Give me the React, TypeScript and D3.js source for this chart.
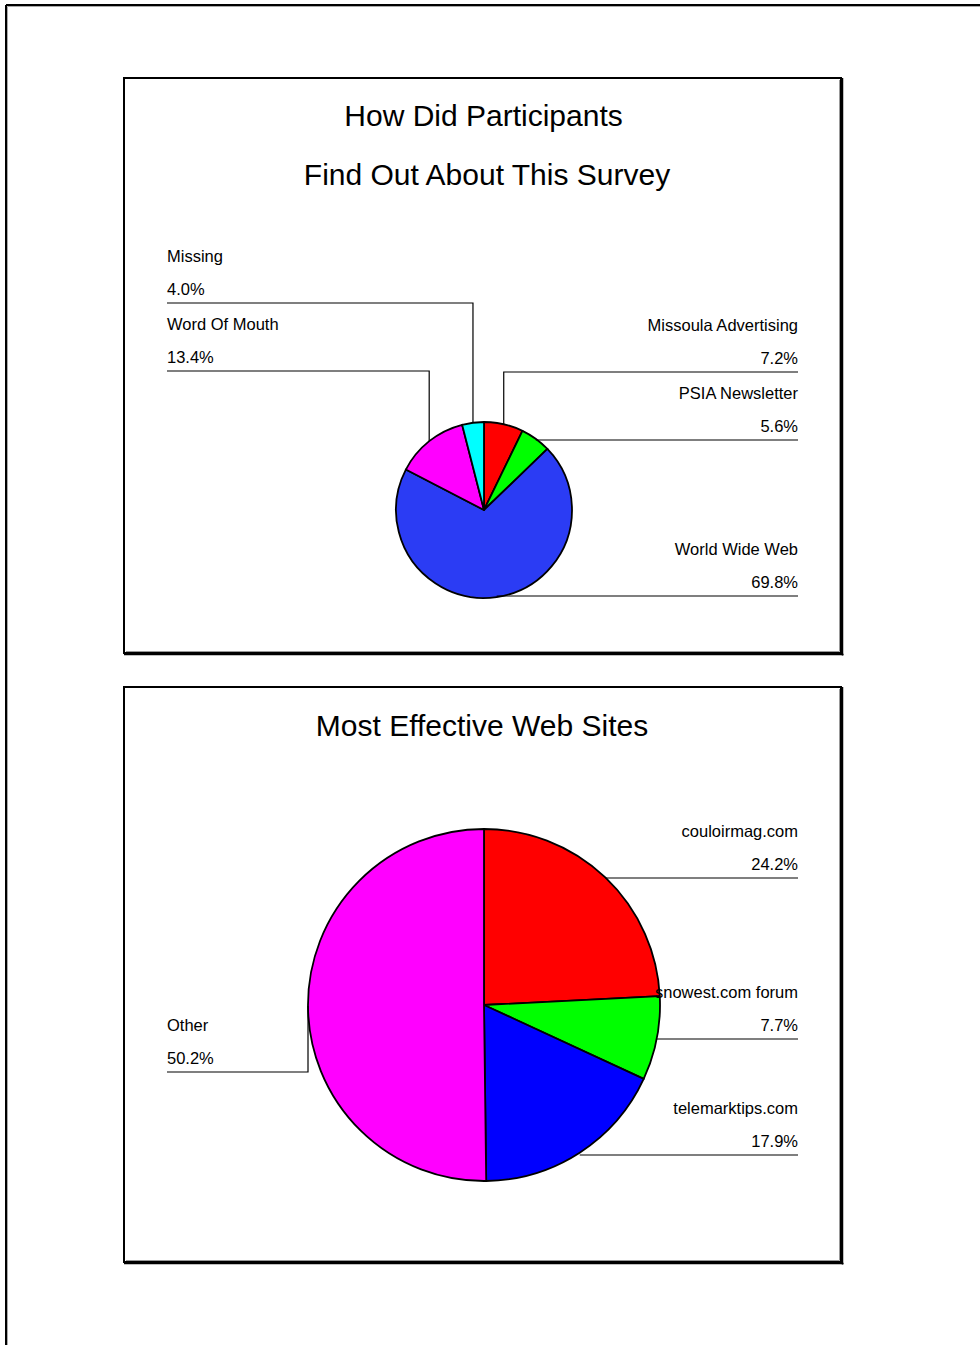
import React from "react";
import * as d3 from "d3";

const pie1Labels = ["Missoula Advertising", "PSIA Newsletter", "World Wide Web", "Word Of Mouth", "Missing"];
const pie1Values = [7.2, 5.6, 69.8, 13.4, 4.0];
const pie1Colors = ["#ff0000", "#00ff00", "#2b3cf4", "#ff00ff", "#00ffff"];
const pie1LineY = [372, 440, 596, 371, 303];
const pie1Side = ["right", "right", "right", "left", "left"];

const pie2Labels = ["couloirmag.com", "snowest.com forum", "telemarktips.com", "Other"];
const pie2Values = [24.2, 7.7, 17.9, 50.2];
const pie2Colors = ["#ff0000", "#00ff00", "#0000ff", "#ff00ff"];
const pie2LineY = [878, 1039, 1155, 1072];
const pie2Side = ["right", "right", "right", "left"];

const FONT = "'Liberation Sans', Arial, Helvetica, sans-serif";

function Pie({ cx, cy, r, labels, values, colors, lineY, side }: any) {
  const pie = d3.pie<number>().sort(null).value((d) => d);
  const arcs = pie(values);
  const arc = d3.arc<d3.PieArcDatum<number>>().innerRadius(0).outerRadius(r);
  const leftX = 167;
  const rightX = 798;
  return (
    <g>
      <g transform={`translate(${cx},${cy})`}>
        {arcs.map((a, i) => (
          <path key={i} d={arc(a) || ""} fill={colors[i]} stroke="#000" strokeWidth={1.8} strokeLinejoin="round" />
        ))}
      </g>
      {arcs.map((a, i) => {
        const mid = (a.startAngle + a.endAngle) / 2;
        const px = cx + r * Math.sin(mid);
        const py = cy - r * Math.cos(mid);
        const ly = lineY[i];
        const isLeft = side[i] === "left";
        const endX = isLeft ? leftX : rightX;
        const pts = Math.abs(py - ly) < 4 ? `${px},${ly} ${endX},${ly}` : `${px},${py} ${px},${ly} ${endX},${ly}`;
        const pct = values[i].toFixed(1) + "%";
        return (
          <g key={"l" + i}>
            <polyline points={pts} fill="none" stroke="#000" strokeWidth={1.2} />
            <text x={endX} y={ly - 41} fontSize={16.5} fontFamily={FONT} textAnchor={isLeft ? "start" : "end"} fill="#000">
              {labels[i]}
            </text>
            <text x={endX} y={ly - 8} fontSize={16.5} fontFamily={FONT} textAnchor={isLeft ? "start" : "end"} fill="#000">
              {pct}
            </text>
          </g>
        );
      })}
    </g>
  );
}

function Panel({ x, y, w, h }: any) {
  return (
    <g>
      <rect x={x} y={y} width={w} height={h} fill="#fff" stroke="#000" strokeWidth={2} />
      <line x1={x + w + 1.5} y1={y} x2={x + w + 1.5} y2={y + h + 2.5} stroke="#000" strokeWidth={1.5} />
      <line x1={x} y1={y + h + 1.5} x2={x + w + 2.5} y2={y + h + 1.5} stroke="#000" strokeWidth={1.5} />
      <line x1={x + w - 1.5} y1={y + 2} x2={x + w - 1.5} y2={y + h - 1.5} stroke="#999" strokeWidth={1} />
      <line x1={x + 2} y1={y + h - 1.5} x2={x + w - 1.5} y2={y + h - 1.5} stroke="#999" strokeWidth={1} />
    </g>
  );
}

export default function App() {
  return (
    <svg width={980} height={1345} style={{ position: "absolute", left: 0, top: 0 }} xmlns="http://www.w3.org/2000/svg">
      <rect x={0} y={0} width={980} height={1345} fill="#fff" />
      <line x1={6} y1={5} x2={980} y2={5} stroke="#000" strokeWidth={2} />
      <line x1={6} y1={5} x2={6} y2={1345} stroke="#000" strokeWidth={2} />
      <line x1={7.5} y1={6.5} x2={980} y2={6.5} stroke="#aaa" strokeWidth={1} />
      <line x1={7.5} y1={6.5} x2={7.5} y2={1345} stroke="#aaa" strokeWidth={1} />

      <Panel x={124} y={78} w={717} h={575} />
      <text x={483.5} y={126} fontSize={30} fontFamily={FONT} textAnchor="middle">How Did Participants</text>
      <text x={487} y={185} fontSize={30} fontFamily={FONT} textAnchor="middle">Find Out About This Survey</text>
      <Pie cx={484} cy={510} r={88} labels={pie1Labels} values={pie1Values} colors={pie1Colors} lineY={pie1LineY} side={pie1Side} />

      <Panel x={124} y={687} w={717} h={575} />
      <text x={482} y={736} fontSize={30} fontFamily={FONT} textAnchor="middle">Most Effective Web Sites</text>
      <Pie cx={484} cy={1005} r={176} labels={pie2Labels} values={pie2Values} colors={pie2Colors} lineY={pie2LineY} side={pie2Side} />
    </svg>
  );
}
